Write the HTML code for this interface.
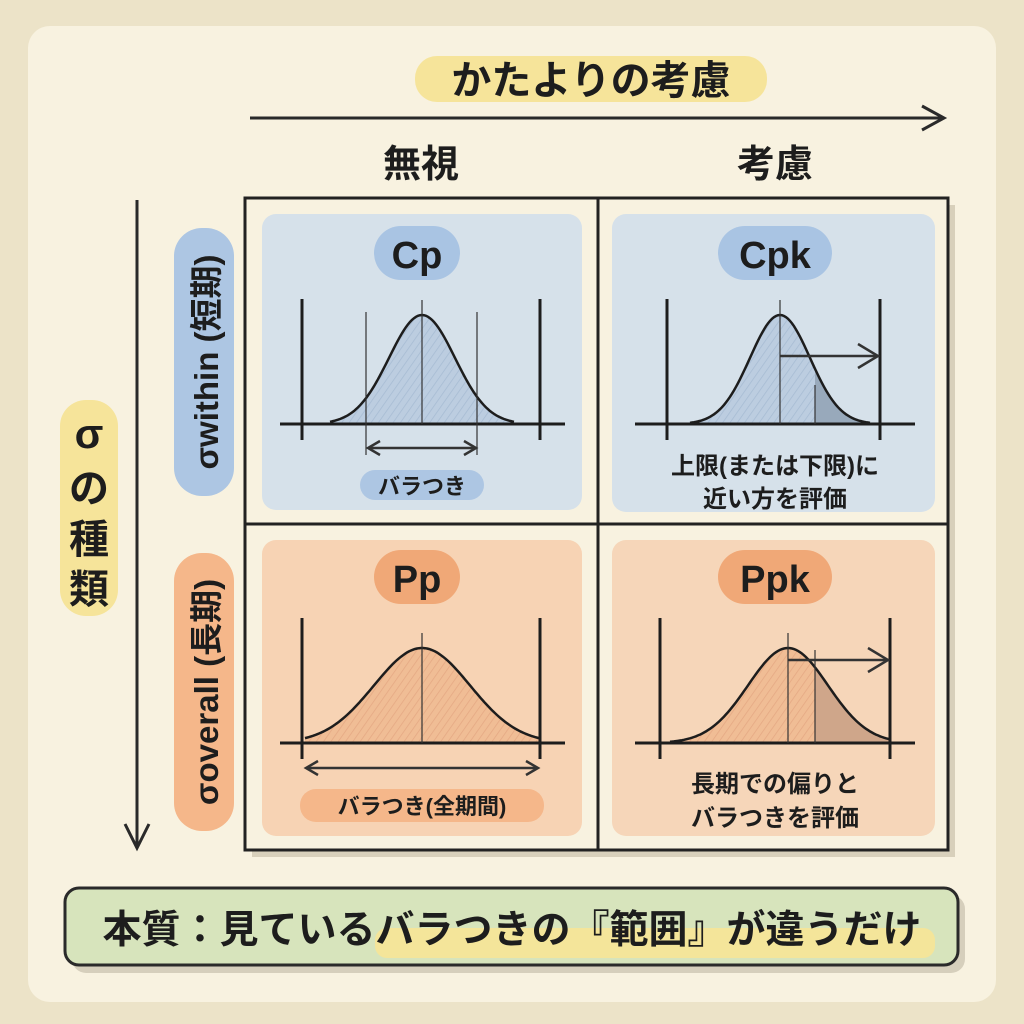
<!DOCTYPE html>
<html><head><meta charset="utf-8"><style>
html,body{margin:0;padding:0;background:#ece3c8;}
svg{display:block}
text{font-family:"Liberation Sans","Noto Sans CJK JP",sans-serif;font-weight:bold;fill:#1d1d1d}
</style></head><body>
<svg id="s" width="1024" height="1024" viewBox="0 0 1024 1024" xmlns="http://www.w3.org/2000/svg">
<defs>
<pattern id="hb" width="6" height="6" patternUnits="userSpaceOnUse" patternTransform="rotate(35)"><rect width="6" height="6" fill="#bccde0"/><line x1="0" y1="0" x2="0" y2="6" stroke="#a6bbd3" stroke-width="1.5"/></pattern>
<pattern id="ho" width="6" height="6" patternUnits="userSpaceOnUse" patternTransform="rotate(35)"><rect width="6" height="6" fill="#f0bd95"/><line x1="0" y1="0" x2="0" y2="6" stroke="#e4a883" stroke-width="1.5"/></pattern>
</defs>
<rect x="0" y="0" width="1024" height="1024" fill="#ece3c8"/>
<rect x="28" y="26" width="968" height="976" rx="22" fill="#f8f2e0"/>
<rect x="415" y="56" width="352" height="46" rx="22" fill="#f6e49a"/>
<text x="591" y="94" font-size="40" text-anchor="middle">かたよりの考慮</text>
<line x1="250" y1="118" x2="942" y2="118" stroke="#2a2a2a" stroke-width="3"/>
<path d="M922 106 L944 118 L922 130" fill="none" stroke="#2a2a2a" stroke-width="3"/>
<text x="421" y="177" font-size="38" text-anchor="middle">無視</text>
<text x="775" y="177" font-size="38" text-anchor="middle">考慮</text>
<rect x="252" y="205" width="703" height="652" fill="#d8d0bb"/>
<rect x="245" y="198" width="703" height="652" fill="#f8f2e0" stroke="#222" stroke-width="3"/>
<line x1="598" y1="198" x2="598" y2="850" stroke="#222" stroke-width="3"/>
<line x1="245" y1="524" x2="948" y2="524" stroke="#222" stroke-width="3"/>
<rect x="262" y="214" width="320" height="296" rx="14" fill="#d6e1ea"/>
<rect x="612" y="214" width="323" height="298" rx="14" fill="#d6e1ea"/>
<rect x="262" y="540" width="320" height="296" rx="14" fill="#f7d3b4"/>
<rect x="612" y="540" width="323" height="296" rx="14" fill="#f6d6b9"/>
<rect x="374" y="226" width="86" height="54" rx="27" fill="#a9c4e3"/>
<text x="417" y="268" font-size="38" text-anchor="middle">Cp</text>
<rect x="718" y="226" width="114" height="54" rx="27" fill="#a9c4e3"/>
<text x="775" y="268" font-size="38" text-anchor="middle">Cpk</text>
<rect x="374" y="550" width="86" height="54" rx="27" fill="#f0a877"/>
<text x="417" y="592" font-size="38" text-anchor="middle">Pp</text>
<rect x="718" y="550" width="114" height="54" rx="27" fill="#f0a877"/>
<text x="775" y="592" font-size="38" text-anchor="middle">Ppk</text>
<g id="curves"></g>
<rect x="360" y="470" width="124" height="30" rx="15" fill="#adc6e3"/>
<text x="422" y="494" font-size="22" text-anchor="middle" font-weight="normal">バラつき</text>
<text x="775" y="474" font-size="24" text-anchor="middle">上限(または下限)に</text>
<text x="775" y="507" font-size="24" text-anchor="middle">近い方を評価</text>
<rect x="300" y="789" width="244" height="33" rx="16" fill="#f5b78a"/>
<text x="422" y="814" font-size="22" text-anchor="middle" font-weight="normal">バラつき(全期間)</text>
<text x="775" y="792" font-size="24" text-anchor="middle">長期での偏りと</text>
<text x="775" y="826" font-size="24" text-anchor="middle">バラつきを評価</text>
<line x1="137" y1="200" x2="137" y2="846" stroke="#2a2a2a" stroke-width="3"/>
<path d="M125 824 L137 848 L149 824" fill="none" stroke="#2a2a2a" stroke-width="3"/>
<rect x="60" y="400" width="58" height="216" rx="26" fill="#f6e49a"/>
<text x="89" y="448" font-size="42" text-anchor="middle">σ</text>
<text x="89" y="502" font-size="40" text-anchor="middle">の</text>
<text x="89" y="553" font-size="40" text-anchor="middle">種</text>
<text x="89" y="603" font-size="40" text-anchor="middle">類</text>
<rect x="174" y="228" width="60" height="268" rx="28" fill="#adc6e3"/>
<text transform="translate(218,362) rotate(-90)" font-size="33" text-anchor="middle">σwithin (短期)</text>
<rect x="174" y="553" width="60" height="278" rx="28" fill="#f5b78a"/>
<text transform="translate(218,692) rotate(-90)" font-size="33" text-anchor="middle">σoverall (長期)</text>
<rect x="72" y="895" width="893" height="78" rx="14" fill="#d6cfbc"/>
<rect x="65" y="888" width="893" height="77" rx="14" fill="#d7e4bc" stroke="#2a2a2a" stroke-width="3"/>
<rect x="375" y="928" width="560" height="30" rx="12" fill="#f4e59a"/>
<text x="512" y="943" font-size="39" text-anchor="middle">本質：見ているバラつきの『範囲』が違うだけ</text>
</svg>
<script>
var g=document.getElementById('curves'),NS="http://www.w3.org/2000/svg";
function el(t,a){var e=document.createElementNS(NS,t);for(var k in a)e.setAttribute(k,a[k]);g.appendChild(e);return e;}
function gp(c,s,base,h,x0,x1){var d="";for(var x=x0;x<=x1;x+=2){var y=base-h*Math.exp(-Math.pow((x-c)/s,2)/2);d+=(d?"L":"M")+x+" "+y.toFixed(1);}return d;}
function cell(o){
 var p=gp(o.c,o.s,o.base,o.h,o.x0,o.x1);
 el('path',{d:p+"L"+o.x1+" "+o.base+"L"+o.x0+" "+o.base+"Z",fill:o.fill});
 if(o.dark){var p2=gp(o.c,o.s,o.base,o.h,o.dark,o.x1);el('path',{d:p2+"L"+o.x1+" "+o.base+"L"+o.dark+" "+o.base+"Z",fill:o.dk});}
 el('path',{d:p,fill:"none",stroke:"#1d1d1d","stroke-width":2.5});
 el('line',{x1:o.a0,y1:o.base,x2:o.a1,y2:o.base,stroke:"#1d1d1d","stroke-width":3});
 o.v.forEach(function(x){el('line',{x1:x,y1:o.base-125,x2:x,y2:o.base+16,stroke:"#1d1d1d","stroke-width":3});});
 el('line',{x1:o.c,y1:o.base-o.h-15,x2:o.c,y2:o.base,stroke:"#333","stroke-width":1.2});
}
cell({c:422,s:33,base:424,h:109,x0:330,x1:515,fill:"url(#hb)",a0:280,a1:565,v:[302,540]});
[366,477].forEach(function(x){el('line',{x1:x,y1:312,x2:x,y2:455,stroke:"#333","stroke-width":1.2});});
el('line',{x1:368,y1:448,x2:476,y2:448,stroke:"#333","stroke-width":2.5});
el('path',{d:"M380 441 L368 448 L380 455 M464 441 L476 448 L464 455",fill:"none",stroke:"#333","stroke-width":2.5});
cell({c:780,s:30,base:424,h:109,x0:690,x1:870,fill:"url(#hb)",dark:815,dk:"#98a9bb",a0:635,a1:915,v:[667,880]});
el('line',{x1:815,y1:385,x2:815,y2:424,stroke:"#333","stroke-width":1.2});
el('line',{x1:780,y1:356,x2:878,y2:356,stroke:"#333","stroke-width":2.5});
el('path',{d:"M858 344 L878 356 L858 368",fill:"none",stroke:"#333","stroke-width":2.5});
cell({c:422,s:48,base:743,h:95,x0:305,x1:540,fill:"url(#ho)",a0:280,a1:565,v:[302,540]});
el('line',{x1:306,y1:768,x2:538,y2:768,stroke:"#333","stroke-width":2.5});
el('path',{d:"M318 761 L306 768 L318 775 M526 761 L538 768 L526 775",fill:"none",stroke:"#333","stroke-width":2.5});
cell({c:788,s:40,base:743,h:95,x0:670,x1:890,fill:"url(#ho)",dark:815,dk:"#cfa68a",a0:635,a1:915,v:[660,890]});
el('line',{x1:815,y1:650,x2:815,y2:743,stroke:"#333","stroke-width":1.2});
el('line',{x1:788,y1:660,x2:888,y2:660,stroke:"#333","stroke-width":2.5});
el('path',{d:"M868 648 L888 660 L868 672",fill:"none",stroke:"#333","stroke-width":2.5});
</script>
</body></html>
